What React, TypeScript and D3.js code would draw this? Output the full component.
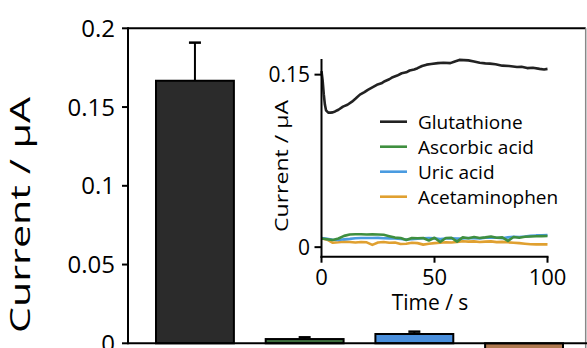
import React from "react";
import * as d3 from "d3";

// ---- Main bar chart data ----
const categories = ["Glutathione", "Ascorbic acid", "Uric acid", "Acetaminophen"];
const barValues = [0.1667, 0.0027, 0.0059, -0.01];
const barErrors = [0.0242, 0.0011, 0.0015, 0.0];
const barFills = ["#2b2b2b", "#3d6e3d", "#4a8fdc", "#b07a50"];
const mainTicks = [0, 0.05, 0.1, 0.15, 0.2];
const mainTickLabels = ["0", "0.05", "0.1", "0.15", "0.2"];

// ---- Inset data ----
const gshTime = [0, 0.5, 1, 1.5, 2, 3, 4, 5, 6, 7.5, 9.5, 11.5, 13.5, 15, 17, 19, 20.5, 22.5, 24.5, 26.5, 28, 30, 31.5, 33.5, 35.5, 37.5, 39, 41, 42.5, 44.5, 46.5, 48.5, 51.5, 54, 57, 59, 61, 63, 65, 67.5, 70, 72.5, 74.5, 77, 80, 83, 86.5, 88.5, 91, 93.5, 96.5, 98.5, 100];
const gshValues = [0.153, 0.145, 0.133, 0.124, 0.119, 0.117, 0.117, 0.1172, 0.118, 0.1195, 0.1222, 0.1238, 0.1265, 0.129, 0.1326, 0.1348, 0.1368, 0.139, 0.1412, 0.1425, 0.1443, 0.146, 0.1478, 0.1492, 0.1512, 0.152, 0.1536, 0.1545, 0.1556, 0.1575, 0.1587, 0.1592, 0.16, 0.1603, 0.16, 0.1615, 0.1628, 0.1626, 0.1624, 0.1615, 0.1603, 0.1598, 0.1596, 0.159, 0.1578, 0.1575, 0.1566, 0.1568, 0.1557, 0.156, 0.155, 0.1545, 0.155];

const smallTime = [0, 2.5, 5, 7.5, 10, 12.5, 15, 17.5, 20, 22.5, 25, 27.5, 30, 32.5, 35, 37.5, 40, 42.5, 45, 47.5, 50, 52.5, 55, 57.5, 60, 62.5, 65, 67.5, 70, 72.5, 75, 77.5, 80, 82.5, 85, 87.5, 90, 92.5, 95, 97.5, 100];
const ascorbicValues = [0.0075, 0.0068, 0.0062, 0.0075, 0.0098, 0.011, 0.0112, 0.0112, 0.011, 0.0111, 0.011, 0.0108, 0.0095, 0.0083, 0.008, 0.0062, 0.008, 0.0078, 0.008, 0.0058, 0.0082, 0.0045, 0.008, 0.0082, 0.0048, 0.0085, 0.0078, 0.0088, 0.008, 0.0085, 0.0092, 0.0082, 0.0085, 0.0055, 0.0088, 0.0082, 0.009, 0.0093, 0.0095, 0.0096, 0.0097];
const uricValues = [0.008, 0.0072, 0.0065, 0.0062, 0.0068, 0.0072, 0.0078, 0.008, 0.0079, 0.008, 0.0081, 0.0078, 0.0076, 0.0075, 0.0072, 0.0066, 0.007, 0.0074, 0.0077, 0.008, 0.0076, 0.007, 0.0075, 0.0078, 0.0074, 0.0076, 0.008, 0.0078, 0.0076, 0.0082, 0.0084, 0.0082, 0.0078, 0.0085, 0.009, 0.0088, 0.0092, 0.0098, 0.0102, 0.0104, 0.0106];
const acetaminophenValues = [0.0078, 0.0065, 0.0038, 0.0042, 0.0048, 0.0045, 0.004, 0.0045, 0.0042, 0.002, 0.004, 0.0045, 0.0038, 0.004, 0.0028, 0.003, 0.0038, 0.0035, 0.0022, 0.003, 0.0035, 0.0038, 0.0042, 0.004, 0.0045, 0.0052, 0.0048, 0.005, 0.0045, 0.0048, 0.005, 0.0044, 0.0046, 0.0042, 0.0038, 0.0035, 0.003, 0.0025, 0.0024, 0.0025, 0.0024];

const insetSeries = [
  { name: "Glutathione", time: gshTime, values: gshValues, color: "#222222" },
  { name: "Ascorbic acid", time: smallTime, values: ascorbicValues, color: "#3f8f3f" },
  { name: "Uric acid", time: smallTime, values: uricValues, color: "#4a9be0" },
  { name: "Acetaminophen", time: smallTime, values: acetaminophenValues, color: "#e0a030" },
];
const insetXTicks = [0, 50, 100];
const insetYTicks = [0, 0.15];
const insetYTickLabels = ["0", "0.15"];

const W = 587;
const H = 348;
const FONT = "'Open Sans', 'Noto Sans', sans-serif";

export default function App() {
  // main scales
  const y = d3.scaleLinear().domain([0, 0.2]).range([343.3, 28.3]);
  const x = d3.scaleBand().domain(categories).range([156, 563]).paddingInner(0.29).paddingOuter(0);
  const axisX = 128;
  const rightX = 585.7;

  // inset scales
  const ix = d3.scaleLinear().domain([0, 100]).range([321.5, 547.5]);
  const iy = d3.scaleLinear().domain([-0.0083, 0.1636]).range([256.7, 59]);
  const line = d3.line<[number, number]>().x((d) => ix(d[0])).y((d) => iy(d[1]));

  return (
    <svg width={W} height={H} style={{ position: "absolute", left: 0, top: 0, background: "#fff" }} fontFamily={FONT}>
      {/* frame */}
      <line x1={axisX} x2={rightX} y1={y(0.2)} y2={y(0.2)} stroke="#000" strokeWidth={2} />
      <line x1={rightX} x2={rightX} y1={y(0.2)} y2={H} stroke="#888" strokeWidth={1.5} />

      {/* bars */}
      {categories.map((c, i) => {
        const v = barValues[i];
        const y0 = y(Math.max(0, v));
        const y1 = y(Math.min(0, v));
        const cx = (x(c) as number) + x.bandwidth() / 2;
        return (
          <g key={c}>
            {barErrors[i] > 0 && (
              <g stroke="#000" strokeWidth={2}>
                <line x1={cx} x2={cx} y1={y(v)} y2={y(v + barErrors[i])} />
                <line x1={cx - 6} x2={cx + 6} y1={y(v + barErrors[i])} y2={y(v + barErrors[i])} strokeWidth={2.5} />
              </g>
            )}
            <rect x={x(c)} y={y0} width={x.bandwidth()} height={Math.max(1, y1 - y0)} fill={barFills[i]} stroke="#000" strokeWidth={2} />
          </g>
        );
      })}

      {/* main axes */}
      <line x1={axisX} x2={W} y1={y(0)} y2={y(0)} stroke="#000" strokeWidth={2} />
      <line x1={axisX} x2={axisX} y1={y(0.2) - 1} y2={y(0) + 1} stroke="#000" strokeWidth={2} />
      {mainTicks.map((t, i) => (
        <g key={t}>
          <line x1={axisX - 6} x2={axisX} y1={y(t)} y2={y(t)} stroke="#000" strokeWidth={2} />
          <text x={115} y={y(t) + 8.5} textAnchor="end" fontSize={24} fill="#000">
            {mainTickLabels[i]}
          </text>
        </g>
      ))}
      <text
        transform={`translate(30, 215) rotate(-90)`}
        textAnchor="middle"
        fontSize={28}
        fill="#000"
        textLength={236}
        lengthAdjust="spacingAndGlyphs"
      >
        Current / μA
      </text>

      {/* inset */}
      <g>
        {insetSeries
          .slice()
          .reverse()
          .map((s) => (
            <path
              key={s.name}
              d={line(s.time.map((t, i) => [t, s.values[i]] as [number, number])) || ""}
              fill="none"
              stroke={s.color}
              strokeWidth={2.6}
              strokeLinejoin="round"
            />
          ))}
        <line x1={ix(0)} x2={ix(0)} y1={iy.range()[1]} y2={iy.range()[0] + 1} stroke="#000" strokeWidth={2} />
        <line x1={ix(0) - 1} x2={ix(100) + 1} y1={iy.range()[0]} y2={iy.range()[0]} stroke="#000" strokeWidth={2} />
        {insetYTicks.map((t, i) => (
          <g key={t}>
            <line x1={ix(0) - 7} x2={ix(0)} y1={iy(t)} y2={iy(t)} stroke="#000" strokeWidth={2} />
            <text x={310} y={iy(t) + 7.5} textAnchor="end" fontSize={21} fill="#000">
              {insetYTickLabels[i]}
            </text>
          </g>
        ))}
        {insetXTicks.map((t) => (
          <g key={t}>
            <line x1={ix(t)} x2={ix(t)} y1={iy.range()[0]} y2={iy.range()[0] + 6} stroke="#000" strokeWidth={2} />
            <text x={ix(t)} y={285} textAnchor="middle" fontSize={22} fill="#000">
              {t}
            </text>
          </g>
        ))}
        <text x={430} y={310} textAnchor="middle" fontSize={21} fill="#000">
          Time / s
        </text>
        <text
          transform={`translate(288, 166) rotate(-90)`}
          textAnchor="middle"
          fontSize={19}
          fill="#000"
          textLength={132}
          lengthAdjust="spacingAndGlyphs"
        >
          Current / μA
        </text>
        {/* legend */}
        {insetSeries.map((s, i) => {
          const ry = 121.7 + i * 25;
          return (
            <g key={s.name}>
              <line x1={380} x2={407} y1={ry} y2={ry} stroke={s.color} strokeWidth={2.6} />
              <text x={418} y={ry + 7} fontSize={19} fill="#000">
                {s.name}
              </text>
            </g>
          );
        })}
      </g>
    </svg>
  );
}
